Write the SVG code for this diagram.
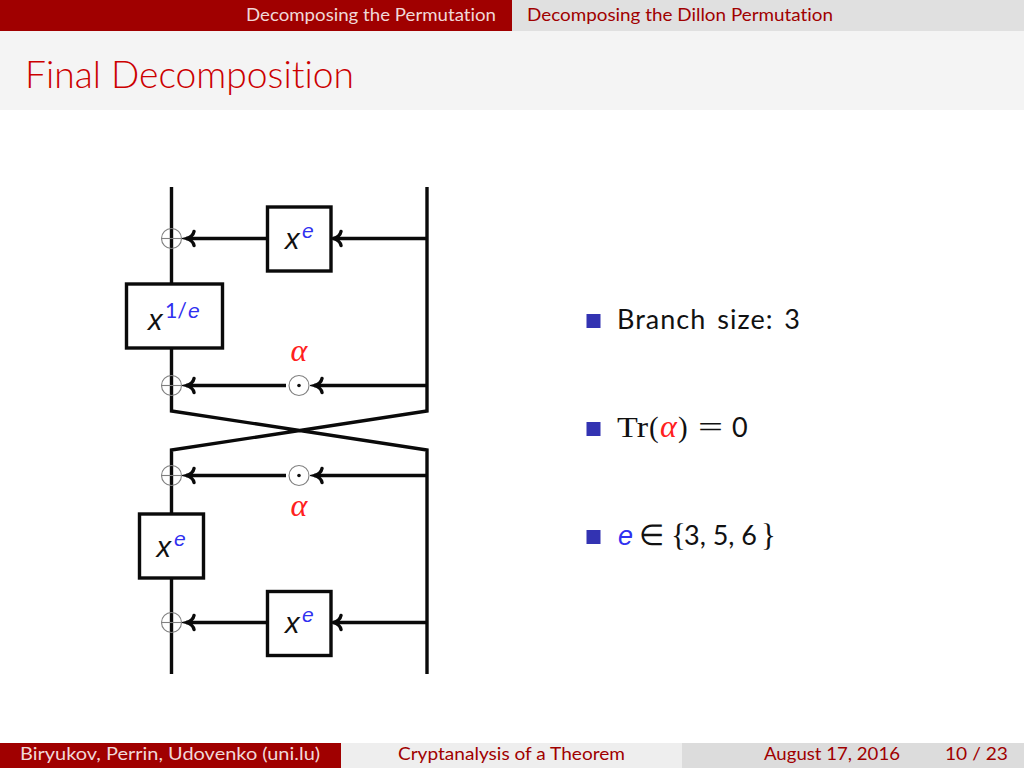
<svg xmlns="http://www.w3.org/2000/svg" width="1024" height="768" viewBox="0 0 1024 768">
<style>
text{font-family:Lato,"Open Sans",sans-serif;fill:#111;font-variant-ligatures:none}
.head{font-size:16.5px;fill:#f0d8d8}
.head2{font-size:16.5px;fill:#a00000}
.foot{font-size:17px;fill:#f0d8d8}
.foot2{font-size:17px;fill:#a00000}
.title{font-size:38px;fill:#cc0000;font-weight:300}
.body{font-size:27px}
.box{fill:#fff;stroke:#0a0a0a;stroke-width:3.4}
.wire{fill:none;stroke:#0a0a0a;stroke-width:3.4}
.op{fill:none;stroke:#808080;stroke-width:1.1}
.x{font-family:"Liberation Sans",sans-serif;font-style:italic;font-size:29px}
.sup{font-family:"Liberation Sans",sans-serif;font-style:italic;font-size:21px;fill:#3030f0}
.supn{font-family:Lato,sans-serif;font-size:21px;fill:#3030f0}
.al{font-family:"Liberation Serif",serif;font-style:italic;font-size:32px;fill:#ff2020}
.serif{font-family:"Liberation Serif",serif;font-size:29px}
.bul{fill:#3333b2}
</style>
<defs>
<marker id="to" markerUnits="userSpaceOnUse" markerWidth="14" markerHeight="20" refX="10" refY="10" orient="auto">
<path d="M2 3Q3 8 9.5 10Q3 12 2 17" fill="none" stroke="#0a0a0a" stroke-width="3.4" stroke-linecap="round"/>
</marker>
</defs>
<g id="header">
<rect width="1024" height="31" fill="#e0e0e0"/>
<rect width="512" height="31" fill="#a00000"/>
<text class="head" x="246" y="20.5" textLength="250" lengthAdjust="spacingAndGlyphs">Decomposing the Permutation</text>
<text class="head2" x="527" y="20.5" textLength="306" lengthAdjust="spacingAndGlyphs">Decomposing the Dillon Permutation</text>
<rect y="31" width="1024" height="79" fill="#f4f4f4"/>
<text class="title" x="25" y="88" textLength="329" lengthAdjust="spacingAndGlyphs">Final Decomposition</text>
</g>
<g id="connectors">
<path class="wire" d="M171.5 187V411L427 450V674M427 187V411L171.5 450V674"/>
<path class="wire" marker-end="url(#to)" d="M427 238.5H333"/>
<path class="wire" marker-end="url(#to)" d="M267 238.5H186"/>
<path class="wire" marker-end="url(#to)" d="M427 385.5H314"/>
<path class="wire" marker-end="url(#to)" d="M286 385.5H186"/>
<path class="wire" marker-end="url(#to)" d="M427 475.5H314"/>
<path class="wire" marker-end="url(#to)" d="M286 475.5H186"/>
<path class="wire" marker-end="url(#to)" d="M427 622.5H333"/>
<path class="wire" marker-end="url(#to)" d="M267 622.5H186"/>
</g>
<g id="xor1"><circle class="op" cx="171.5" cy="238.5" r="10"/><path class="op" d="M161.5 238.5H181.5"/></g>
<g id="xor2"><circle class="op" cx="171.5" cy="385.5" r="10"/><path class="op" d="M161.5 385.5H181.5"/></g>
<g id="xor3"><circle class="op" cx="171.5" cy="475.5" r="10"/><path class="op" d="M161.5 475.5H181.5"/></g>
<g id="xor4"><circle class="op" cx="171.5" cy="622.5" r="10"/><path class="op" d="M161.5 622.5H181.5"/></g>
<g id="mul1"><circle class="op" cx="299" cy="385.5" r="10"/><circle cx="299" cy="385.5" r="1.8" fill="#111"/><text class="al" x="299" y="361" text-anchor="middle">α</text></g>
<g id="mul2"><circle class="op" cx="299" cy="475.5" r="10"/><circle cx="299" cy="475.5" r="1.8" fill="#111"/><text class="al" x="299" y="516" text-anchor="middle">α</text></g>
<g id="box1"><rect class="box" x="267.5" y="207" width="63.5" height="64"/><text class="x" x="285" y="249">x</text><text class="sup" x="302" y="238">e</text></g>
<g id="box2"><rect class="box" x="126.5" y="284" width="96" height="64"/><text class="x" x="148" y="330">x</text><text class="supn" x="165" y="318" textLength="22" lengthAdjust="spacingAndGlyphs">1/</text><text class="sup" x="188" y="318">e</text></g>
<g id="box3"><rect class="box" x="139.5" y="514" width="64" height="64"/><text class="x" x="156.5" y="557">x</text><text class="sup" x="174" y="546">e</text></g>
<g id="box4"><rect class="box" x="267.5" y="591.5" width="63.5" height="64"/><text class="x" x="285" y="633">x</text><text class="sup" x="302" y="622">e</text></g>
<g id="bullets">
<rect class="bul" x="586.5" y="314" width="14" height="14"/>
<rect class="bul" x="586.5" y="422" width="14" height="14"/>
<rect class="bul" x="586.5" y="530" width="14" height="14"/>
<text class="body" x="617" y="329" textLength="183" lengthAdjust="spacing" word-spacing="3">Branch size: 3</text>
<text class="serif" x="617" y="437" textLength="31" lengthAdjust="spacingAndGlyphs">Tr</text><text class="serif" x="649" y="437">(</text><text class="al" x="660" y="437">α</text><text class="serif" x="678" y="437">)</text><text class="serif" x="698" y="437" textLength="25" lengthAdjust="spacingAndGlyphs">=</text><text class="body" x="732" y="437">0</text>
<text x="618" y="545" style="font-family:'Liberation Sans',sans-serif;font-style:italic;font-size:27px;fill:#3030f0">e</text>
<text class="serif" x="639" y="545">∈</text>
<text x="671" y="546" style="font-family:'Liberation Serif',serif;font-size:31px">{</text>
<text class="body" x="684" y="545" textLength="73" lengthAdjust="spacing">3, 5, 6</text>
<text x="761" y="546" style="font-family:'Liberation Serif',serif;font-size:31px">}</text>
</g>
<g id="footer">
<rect y="743" width="1024" height="25" fill="#dcdcdc"/>
<rect y="743" width="341" height="25" fill="#a00000"/>
<rect x="341" y="743" width="341" height="25" fill="#eeeeee"/>
<text class="foot" x="20" y="760" textLength="300" lengthAdjust="spacingAndGlyphs">Biryukov, Perrin, Udovenko (uni.lu)</text>
<text class="foot2" x="398" y="760" textLength="227" lengthAdjust="spacingAndGlyphs">Cryptanalysis of a Theorem</text>
<text class="foot2" x="764" y="760" textLength="136" lengthAdjust="spacingAndGlyphs">August 17, 2016</text>
<text class="foot2" x="945" y="760" textLength="63" lengthAdjust="spacingAndGlyphs">10 / 23</text>
</g>
</svg>
